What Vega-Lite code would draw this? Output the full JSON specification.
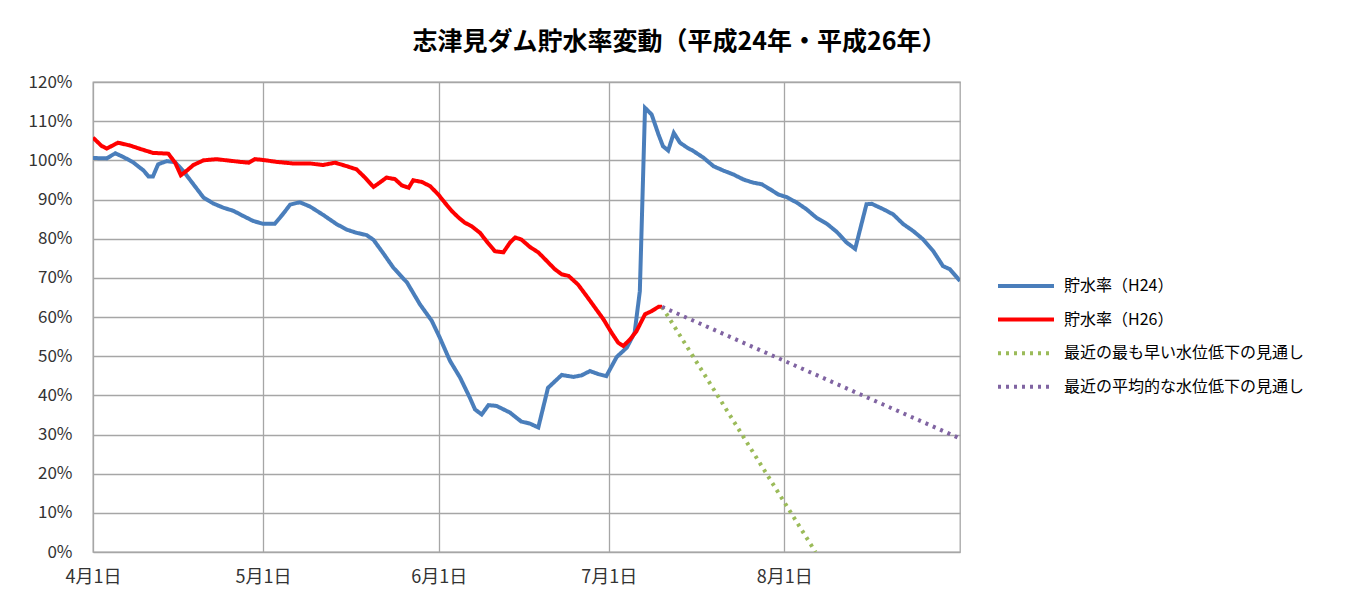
{
  "$schema": "https://vega.github.io/schema/vega-lite/v6.json",
  "width": 867,
  "height": 470,
  "autosize": {"type": "none"},
  "padding": {"left": 93, "top": 82, "right": 393, "bottom": 48},
  "background": "white",
  "title": {
    "text": "志津見ダム貯水率変動（平成24年・平成26年）",
    "anchor": "middle",
    "frame": "group",
    "dx": 153,
    "offset": 18,
    "font": "Noto Sans CJK JP",
    "fontSize": 25,
    "fontWeight": "bold",
    "color": "#000000"
  },
  "config": {
    "view": {"stroke": "#a6a6a6", "strokeWidth": 1.3},
    "axis": {
      "labelFont": "Noto Sans CJK JP",
      "labelColor": "#333333",
      "gridColor": "#a6a6a6",
      "gridWidth": 1.3,
      "domain": false,
      "ticks": false,
      "title": null
    }
  },
  "data": {
    "values": [
      {"series": "貯水率（H24）", "date": "2014-04-01T00:00", "rate": 100.6},
      {"series": "貯水率（H24）", "date": "2014-04-03T10:00", "rate": 100.5},
      {"series": "貯水率（H24）", "date": "2014-04-04T22:00", "rate": 101.8},
      {"series": "貯水率（H24）", "date": "2014-04-06T07:00", "rate": 100.9},
      {"series": "貯水率（H24）", "date": "2014-04-08T02:00", "rate": 99.5},
      {"series": "貯水率（H24）", "date": "2014-04-09T22:00", "rate": 97.4},
      {"series": "貯水率（H24）", "date": "2014-04-10T19:00", "rate": 95.9},
      {"series": "貯水率（H24）", "date": "2014-04-11T14:00", "rate": 95.9},
      {"series": "貯水率（H24）", "date": "2014-04-12T12:00", "rate": 99.0},
      {"series": "貯水率（H24）", "date": "2014-04-14T00:00", "rate": 99.8},
      {"series": "貯水率（H24）", "date": "2014-04-15T12:00", "rate": 99.5},
      {"series": "貯水率（H24）", "date": "2014-04-16T22:00", "rate": 97.3},
      {"series": "貯水率（H24）", "date": "2014-04-18T17:00", "rate": 93.9},
      {"series": "貯水率（H24）", "date": "2014-04-20T12:00", "rate": 90.5},
      {"series": "貯水率（H24）", "date": "2014-04-22T05:00", "rate": 89.0},
      {"series": "貯水率（H24）", "date": "2014-04-24T00:00", "rate": 87.9},
      {"series": "貯水率（H24）", "date": "2014-04-25T19:00", "rate": 87.1},
      {"series": "貯水率（H24）", "date": "2014-04-27T12:00", "rate": 85.8},
      {"series": "貯水率（H24）", "date": "2014-04-29T07:00", "rate": 84.5},
      {"series": "貯水率（H24）", "date": "2014-05-01T00:00", "rate": 83.8},
      {"series": "貯水率（H24）", "date": "2014-05-03T02:00", "rate": 83.8},
      {"series": "貯水率（H24）", "date": "2014-05-04T14:00", "rate": 86.4},
      {"series": "貯水率（H24）", "date": "2014-05-05T19:00", "rate": 88.7},
      {"series": "貯水率（H24）", "date": "2014-05-07T12:00", "rate": 89.3},
      {"series": "貯水率（H24）", "date": "2014-05-09T07:00", "rate": 88.2},
      {"series": "貯水率（H24）", "date": "2014-05-11T14:00", "rate": 86.1},
      {"series": "貯水率（H24）", "date": "2014-05-14T00:00", "rate": 83.7},
      {"series": "貯水率（H24）", "date": "2014-05-15T19:00", "rate": 82.3},
      {"series": "貯水率（H24）", "date": "2014-05-17T12:00", "rate": 81.5},
      {"series": "貯水率（H24）", "date": "2014-05-19T07:00", "rate": 80.9},
      {"series": "貯水率（H24）", "date": "2014-05-20T12:00", "rate": 79.7},
      {"series": "貯水率（H24）", "date": "2014-05-22T05:00", "rate": 76.3},
      {"series": "貯水率（H24）", "date": "2014-05-24T00:00", "rate": 72.6},
      {"series": "貯水率（H24）", "date": "2014-05-26T10:00", "rate": 68.8},
      {"series": "貯水率（H24）", "date": "2014-05-28T17:00", "rate": 63.2},
      {"series": "貯水率（H24）", "date": "2014-05-30T19:00", "rate": 59.0},
      {"series": "貯水率（H24）", "date": "2014-06-01T05:00", "rate": 54.7},
      {"series": "貯水率（H24）", "date": "2014-06-03T00:00", "rate": 48.8},
      {"series": "貯水率（H24）", "date": "2014-06-04T19:00", "rate": 44.5},
      {"series": "貯水率（H24）", "date": "2014-06-06T12:00", "rate": 39.4},
      {"series": "貯水率（H24）", "date": "2014-06-07T10:00", "rate": 36.4},
      {"series": "貯水率（H24）", "date": "2014-06-08T14:00", "rate": 35.1},
      {"series": "貯水率（H24）", "date": "2014-06-09T19:00", "rate": 37.5},
      {"series": "貯水率（H24）", "date": "2014-06-11T05:00", "rate": 37.3},
      {"series": "貯水率（H24）", "date": "2014-06-13T14:00", "rate": 35.6},
      {"series": "貯水率（H24）", "date": "2014-06-15T14:00", "rate": 33.3},
      {"series": "貯水率（H24）", "date": "2014-06-17T02:00", "rate": 32.8},
      {"series": "貯水率（H24）", "date": "2014-06-18T14:00", "rate": 31.8},
      {"series": "貯水率（H24）", "date": "2014-06-20T07:00", "rate": 41.9},
      {"series": "貯水率（H24）", "date": "2014-06-22T17:00", "rate": 45.2},
      {"series": "貯水率（H24）", "date": "2014-06-24T19:00", "rate": 44.7},
      {"series": "貯水率（H24）", "date": "2014-06-26T05:00", "rate": 45.1},
      {"series": "貯水率（H24）", "date": "2014-06-27T17:00", "rate": 46.2},
      {"series": "貯水率（H24）", "date": "2014-06-29T05:00", "rate": 45.4},
      {"series": "貯水率（H24）", "date": "2014-06-30T14:00", "rate": 44.9},
      {"series": "貯水率（H24）", "date": "2014-07-02T10:00", "rate": 49.8},
      {"series": "貯水率（H24）", "date": "2014-07-04T05:00", "rate": 52.2},
      {"series": "貯水率（H24）", "date": "2014-07-05T14:00", "rate": 56.0},
      {"series": "貯水率（H24）", "date": "2014-07-06T12:00", "rate": 66.6},
      {"series": "貯水率（H24）", "date": "2014-07-07T10:00", "rate": 113.4},
      {"series": "貯水率（H24）", "date": "2014-07-08T14:00", "rate": 111.7},
      {"series": "貯水率（H24）", "date": "2014-07-09T19:00", "rate": 106.6},
      {"series": "貯水率（H24）", "date": "2014-07-10T14:00", "rate": 103.6},
      {"series": "貯水率（H24）", "date": "2014-07-11T12:00", "rate": 102.5},
      {"series": "貯水率（H24）", "date": "2014-07-12T12:00", "rate": 107.0},
      {"series": "貯水率（H24）", "date": "2014-07-13T14:00", "rate": 104.5},
      {"series": "貯水率（H24）", "date": "2014-07-14T19:00", "rate": 103.3},
      {"series": "貯水率（H24）", "date": "2014-07-15T22:00", "rate": 102.4},
      {"series": "貯水率（H24）", "date": "2014-07-17T17:00", "rate": 100.7},
      {"series": "貯水率（H24）", "date": "2014-07-19T12:00", "rate": 98.5},
      {"series": "貯水率（H24）", "date": "2014-07-21T05:00", "rate": 97.4},
      {"series": "貯水率（H24）", "date": "2014-07-23T00:00", "rate": 96.4},
      {"series": "貯水率（H24）", "date": "2014-07-24T19:00", "rate": 95.1},
      {"series": "貯水率（H24）", "date": "2014-07-26T12:00", "rate": 94.3},
      {"series": "貯水率（H24）", "date": "2014-07-28T00:00", "rate": 93.9},
      {"series": "貯水率（H24）", "date": "2014-07-29T12:00", "rate": 92.6},
      {"series": "貯水率（H24）", "date": "2014-07-30T22:00", "rate": 91.3},
      {"series": "貯水率（H24）", "date": "2014-08-01T10:00", "rate": 90.6},
      {"series": "貯水率（H24）", "date": "2014-08-03T05:00", "rate": 89.2},
      {"series": "貯水率（H24）", "date": "2014-08-04T22:00", "rate": 87.5},
      {"series": "貯水率（H24）", "date": "2014-08-06T17:00", "rate": 85.3},
      {"series": "貯水率（H24）", "date": "2014-08-08T12:00", "rate": 83.8},
      {"series": "貯水率（H24）", "date": "2014-08-10T05:00", "rate": 81.8},
      {"series": "貯水率（H24）", "date": "2014-08-12T00:00", "rate": 79.0},
      {"series": "貯水率（H24）", "date": "2014-08-13T12:00", "rate": 77.4},
      {"series": "貯水率（H24）", "date": "2014-08-15T12:00", "rate": 88.8},
      {"series": "貯水率（H24）", "date": "2014-08-16T10:00", "rate": 88.9},
      {"series": "貯水率（H24）", "date": "2014-08-18T12:00", "rate": 87.5},
      {"series": "貯水率（H24）", "date": "2014-08-20T05:00", "rate": 86.2},
      {"series": "貯水率（H24）", "date": "2014-08-22T00:00", "rate": 83.7},
      {"series": "貯水率（H24）", "date": "2014-08-23T19:00", "rate": 81.9},
      {"series": "貯水率（H24）", "date": "2014-08-25T12:00", "rate": 79.8},
      {"series": "貯水率（H24）", "date": "2014-08-27T07:00", "rate": 76.8},
      {"series": "貯水率（H24）", "date": "2014-08-29T00:00", "rate": 73.0},
      {"series": "貯水率（H24）", "date": "2014-08-30T05:00", "rate": 72.2},
      {"series": "貯水率（H24）", "date": "2014-09-01T00:00", "rate": 69.2},
      {"series": "貯水率（H26）", "date": "2014-04-01T00:00", "rate": 105.8},
      {"series": "貯水率（H26）", "date": "2014-04-02T12:00", "rate": 103.7},
      {"series": "貯水率（H26）", "date": "2014-04-03T10:00", "rate": 103.0},
      {"series": "貯水率（H26）", "date": "2014-04-05T10:00", "rate": 104.5},
      {"series": "貯水率（H26）", "date": "2014-04-07T12:00", "rate": 103.8},
      {"series": "貯水率（H26）", "date": "2014-04-09T14:00", "rate": 102.8},
      {"series": "貯水率（H26）", "date": "2014-04-11T14:00", "rate": 101.9},
      {"series": "貯水率（H26）", "date": "2014-04-14T07:00", "rate": 101.7},
      {"series": "貯水率（H26）", "date": "2014-04-15T12:00", "rate": 99.4},
      {"series": "貯水率（H26）", "date": "2014-04-16T12:00", "rate": 96.2},
      {"series": "貯水率（H26）", "date": "2014-04-17T12:00", "rate": 97.3},
      {"series": "貯水率（H26）", "date": "2014-04-18T17:00", "rate": 98.8},
      {"series": "貯水率（H26）", "date": "2014-04-20T12:00", "rate": 100.0},
      {"series": "貯水率（H26）", "date": "2014-04-22T19:00", "rate": 100.3},
      {"series": "貯水率（H26）", "date": "2014-04-24T14:00", "rate": 100.0},
      {"series": "貯水率（H26）", "date": "2014-04-27T00:00", "rate": 99.6},
      {"series": "貯水率（H26）", "date": "2014-04-28T12:00", "rate": 99.4},
      {"series": "貯水率（H26）", "date": "2014-04-29T14:00", "rate": 100.3},
      {"series": "貯水率（H26）", "date": "2014-05-01T00:00", "rate": 100.1},
      {"series": "貯水率（H26）", "date": "2014-05-03T10:00", "rate": 99.6},
      {"series": "貯水率（H26）", "date": "2014-05-06T07:00", "rate": 99.2},
      {"series": "貯水率（H26）", "date": "2014-05-09T07:00", "rate": 99.2},
      {"series": "貯水率（H26）", "date": "2014-05-11T14:00", "rate": 98.8},
      {"series": "貯水率（H26）", "date": "2014-05-13T17:00", "rate": 99.4},
      {"series": "貯水率（H26）", "date": "2014-05-15T19:00", "rate": 98.5},
      {"series": "貯水率（H26）", "date": "2014-05-17T12:00", "rate": 97.7},
      {"series": "貯水率（H26）", "date": "2014-05-19T00:00", "rate": 95.6},
      {"series": "貯水率（H26）", "date": "2014-05-20T12:00", "rate": 93.2},
      {"series": "貯水率（H26）", "date": "2014-05-21T14:00", "rate": 94.3},
      {"series": "貯水率（H26）", "date": "2014-05-22T19:00", "rate": 95.6},
      {"series": "貯水率（H26）", "date": "2014-05-24T07:00", "rate": 95.2},
      {"series": "貯水率（H26）", "date": "2014-05-25T12:00", "rate": 93.6},
      {"series": "貯水率（H26）", "date": "2014-05-26T17:00", "rate": 93.0},
      {"series": "貯水率（H26）", "date": "2014-05-27T12:00", "rate": 94.9},
      {"series": "貯水率（H26）", "date": "2014-05-29T00:00", "rate": 94.5},
      {"series": "貯水率（H26）", "date": "2014-05-30T12:00", "rate": 93.4},
      {"series": "貯水率（H26）", "date": "2014-05-31T22:00", "rate": 91.3},
      {"series": "貯水率（H26）", "date": "2014-06-02T02:00", "rate": 89.2},
      {"series": "貯水率（H26）", "date": "2014-06-03T07:00", "rate": 87.1},
      {"series": "貯水率（H26）", "date": "2014-06-04T10:00", "rate": 85.5},
      {"series": "貯水率（H26）", "date": "2014-06-05T14:00", "rate": 84.1},
      {"series": "貯水率（H26）", "date": "2014-06-06T19:00", "rate": 83.2},
      {"series": "貯水率（H26）", "date": "2014-06-08T07:00", "rate": 81.5},
      {"series": "貯水率（H26）", "date": "2014-06-09T10:00", "rate": 79.4},
      {"series": "貯水率（H26）", "date": "2014-06-10T22:00", "rate": 76.8},
      {"series": "貯水率（H26）", "date": "2014-06-12T10:00", "rate": 76.5},
      {"series": "貯水率（H26）", "date": "2014-06-13T14:00", "rate": 79.0},
      {"series": "貯水率（H26）", "date": "2014-06-14T12:00", "rate": 80.3},
      {"series": "貯水率（H26）", "date": "2014-06-15T14:00", "rate": 79.8},
      {"series": "貯水率（H26）", "date": "2014-06-17T02:00", "rate": 77.9},
      {"series": "貯水率（H26）", "date": "2014-06-18T14:00", "rate": 76.5},
      {"series": "貯水率（H26）", "date": "2014-06-20T02:00", "rate": 74.3},
      {"series": "貯水率（H26）", "date": "2014-06-21T12:00", "rate": 72.2},
      {"series": "貯水率（H26）", "date": "2014-06-22T17:00", "rate": 70.9},
      {"series": "貯水率（H26）", "date": "2014-06-23T22:00", "rate": 70.5},
      {"series": "貯水率（H26）", "date": "2014-06-25T14:00", "rate": 68.3},
      {"series": "貯水率（H26）", "date": "2014-06-27T02:00", "rate": 65.4},
      {"series": "貯水率（H26）", "date": "2014-06-28T14:00", "rate": 62.4},
      {"series": "貯水率（H26）", "date": "2014-06-30T02:00", "rate": 59.4},
      {"series": "貯水率（H26）", "date": "2014-07-01T12:00", "rate": 56.0},
      {"series": "貯水率（H26）", "date": "2014-07-02T17:00", "rate": 53.4},
      {"series": "貯水率（H26）", "date": "2014-07-03T14:00", "rate": 52.6},
      {"series": "貯水率（H26）", "date": "2014-07-04T19:00", "rate": 54.3},
      {"series": "貯水率（H26）", "date": "2014-07-05T22:00", "rate": 56.4},
      {"series": "貯水率（H26）", "date": "2014-07-07T10:00", "rate": 60.7},
      {"series": "貯水率（H26）", "date": "2014-07-08T14:00", "rate": 61.5},
      {"series": "貯水率（H26）", "date": "2014-07-09T19:00", "rate": 62.6},
      {"series": "貯水率（H26）", "date": "2014-07-10T10:00", "rate": 62.6},
      {"series": "最近の最も早い水位低下の見通し", "date": "2014-07-10T10:00", "rate": 62.6},
      {"series": "最近の最も早い水位低下の見通し", "date": "2014-08-06T12:00", "rate": 0},
      {"series": "最近の平均的な水位低下の見通し", "date": "2014-07-10T10:00", "rate": 62.6},
      {"series": "最近の平均的な水位低下の見通し", "date": "2014-09-01T00:00", "rate": 29.0}
    ]
  },
  "mark": {"type": "line", "clip": true},
  "encoding": {
    "x": {
      "field": "date",
      "type": "temporal",
      "scale": {
        "domain": [
          {"year": 2014, "month": 4, "date": 1},
          {"year": 2014, "month": 9, "date": 1}
        ],
        "nice": false
      },
      "axis": {
        "values": [
          {"year": 2014, "month": 4, "date": 1},
          {"year": 2014, "month": 5, "date": 1},
          {"year": 2014, "month": 6, "date": 1},
          {"year": 2014, "month": 7, "date": 1},
          {"year": 2014, "month": 8, "date": 1}
        ],
        "format": "%-m月%-d日",
        "labelFontSize": 18,
        "labelPadding": 16,
        "labelFlush": false
      }
    },
    "y": {
      "field": "rate",
      "type": "quantitative",
      "scale": {"domain": [0, 120], "nice": false, "zero": true},
      "axis": {
        "values": [0, 10, 20, 30, 40, 50, 60, 70, 80, 90, 100, 110, 120],
        "labelExpr": "datum.value + '%'",
        "labelFontSize": 17,
        "labelPadding": 21
      }
    },
    "color": {
      "field": "series",
      "type": "nominal",
      "scale": {
        "domain": ["貯水率（H24）", "貯水率（H26）", "最近の最も早い水位低下の見通し", "最近の平均的な水位低下の見通し"],
        "range": ["#4a7ebb", "#ff0000", "#9bbb59", "#8064a2"]
      },
      "legend": {
        "title": null,
        "orient": "none",
        "legendX": 923,
        "legendY": 194,
        "padding": 0,
        "labelFont": "Noto Sans CJK JP",
        "labelFontSize": 16,
        "labelColor": "#000000",
        "labelLimit": 400,
        "labelOffset": 28,
        "rowPadding": 15.6,
        "symbolOffset": 0,
        "symbolType": "M-3.5,0H3.5",
        "symbolSize": 256
      }
    },
    "strokeDash": {
      "field": "series",
      "type": "nominal",
      "scale": {
        "domain": ["貯水率（H24）", "貯水率（H26）", "最近の最も早い水位低下の見通し", "最近の平均的な水位低下の見通し"],
        "range": [[1, 0], [1, 0], [3, 5], [3, 5]]
      },
      "legend": {"title": null}
    },
    "strokeWidth": {
      "field": "series",
      "type": "nominal",
      "scale": {
        "domain": ["貯水率（H24）", "貯水率（H26）", "最近の最も早い水位低下の見通し", "最近の平均的な水位低下の見通し"],
        "range": [4, 4, 3.2, 3.2]
      },
      "legend": {"title": null}
    }
  }
}
